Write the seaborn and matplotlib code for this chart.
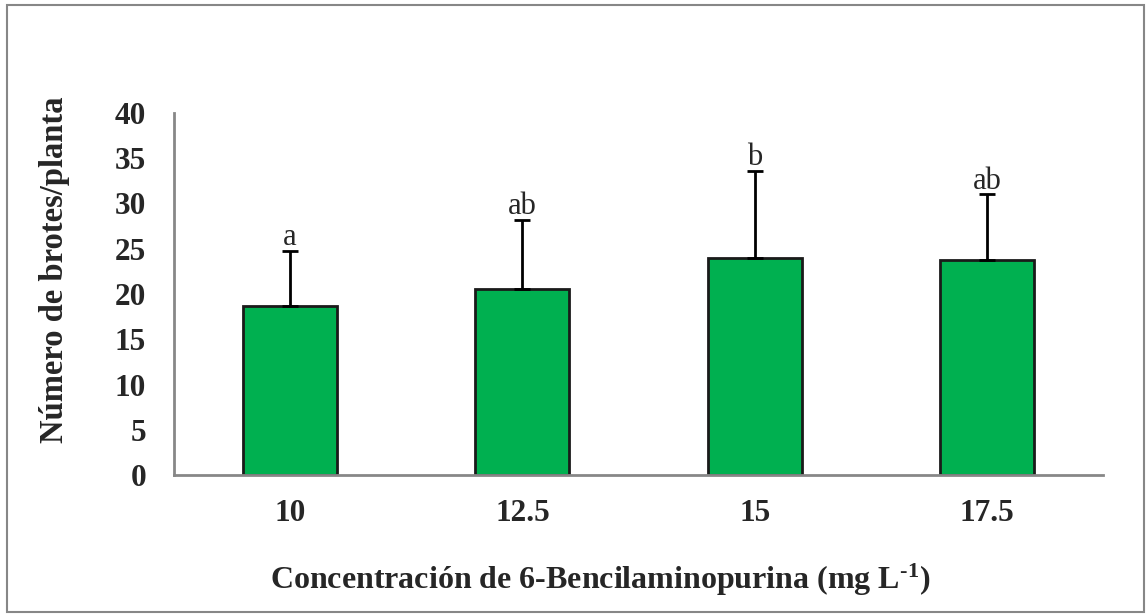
import matplotlib
matplotlib.use('Agg')
import matplotlib.pyplot as plt
from matplotlib.patches import Rectangle
import seaborn as sns
import pandas as pd

# datos
concentraciones = ['10', '12.5', '15', '17.5']
brotes = [18.7, 20.5, 24.0, 23.8]
desv = [6.1, 7.7, 9.6, 7.2]
letras = ['a', 'ab', 'b', 'ab']

df = pd.DataFrame({'conc': concentraciones, 'brotes': brotes})

sns.set_style('white')
plt.rcParams['font.family'] = ['Liberation Serif', 'DejaVu Serif']
plt.rcParams['mathtext.fontset'] = 'custom'
plt.rcParams['mathtext.rm'] = 'Liberation Serif:bold'
plt.rcParams['mathtext.default'] = 'regular'

fig = plt.figure(figsize=(11.47, 6.15), dpi=100)
ax = fig.add_axes([0.1517, 0.2276, 0.81, 0.5887])

sns.barplot(data=df, x='conc', y='brotes', color='#00B050', saturation=1,
            width=0.405, edgecolor='#1a1a1a', linewidth=2, errorbar=None, ax=ax)

xs = range(len(brotes))
ax.errorbar(xs, brotes, yerr=[[0] * len(desv), desv], fmt='none',
            ecolor='black', elinewidth=2, capsize=6, capthick=2)

for x, y, e, l in zip(xs, brotes, desv, letras):
    ax.annotate(l, (x, y + e), xytext=(0, 4), textcoords='offset points',
                ha='center', va='baseline', fontsize=22)

ax.set_ylim(0, 40)
ax.set_yticks(range(0, 41, 5))
ax.set_xlim(-0.5, 3.5)
ax.set_xlabel('')
ax.set_ylabel('')

for s in ['top', 'right']:
    ax.spines[s].set_visible(False)
for s in ['left', 'bottom']:
    ax.spines[s].set_color('#878787')
    ax.spines[s].set_linewidth(2)

ax.tick_params(axis='y', direction='in', length=7, width=1.5, color='#878787',
               pad=20, labelsize=22.5)
ax.tick_params(axis='x', length=0, pad=17, labelsize=22.5)
for t in ax.get_xticklabels() + ax.get_yticklabels():
    t.set_fontweight('bold')

fig.text(0.523, 1 - 580 / 615, r'Concentración de 6-Bencilaminopurina (mg L$^{\text{-1}}$)',
         ha='center', va='center', fontsize=23, fontweight='bold')
fig.text(55 / 1147, 1 - 270 / 615, 'Número de brotes/planta', rotation=90,
         ha='center', va='center', fontsize=23.5, fontweight='bold')

fig.patches.append(Rectangle((7 / 1147, 3 / 615), 1137 / 1147, 607 / 615,
                             transform=fig.transFigure, fill=False,
                             edgecolor='#878787', linewidth=1.5))

fig.savefig('out.png', dpi=100)
